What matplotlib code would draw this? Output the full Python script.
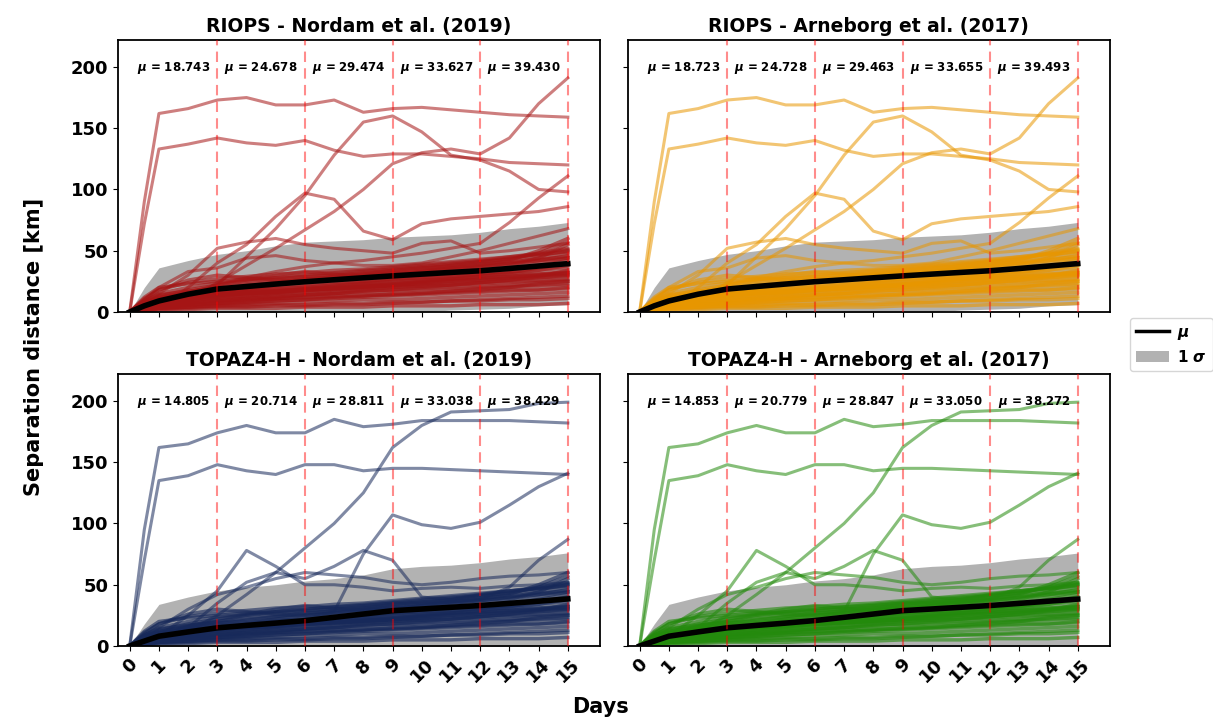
import numpy as np
import matplotlib
matplotlib.use("Agg")
import matplotlib.pyplot as plt
from matplotlib.lines import Line2D
from matplotlib.patches import Patch

plt.rcParams['font.family'] = ['DejaVu Sans']
plt.rcParams['mathtext.fontset'] = 'custom'
plt.rcParams['mathtext.it'] = 'DejaVu Sans:italic:bold'
plt.rcParams['mathtext.rm'] = 'DejaVu Sans:bold'

#------------------------------------------------------------------
# time axis (days), first step at half a day
days = [0, 0.5, 1, 2, 3, 4, 5, 6, 7, 8, 9, 10, 11, 12, 13, 14, 15]
day_ticks = list(range(16))
mark_days = [3, 6, 9, 12, 15]
mu_pos = [1.5, 4.5, 7.5, 10.5, 13.5]

titles = ["RIOPS - Nordam et al. (2019)", "RIOPS - Arneborg et al. (2017)",
          "TOPAZ4-H - Nordam et al. (2019)", "TOPAZ4-H - Arneborg et al. (2017)"]
colors = ["#a51515", "#e89600", "#17295a", "#238a0c"]

mu_riops_nordam = [18.743, 24.678, 29.474, 33.627, 39.430]
mu_riops_arneborg = [18.723, 24.728, 29.463, 33.655, 39.493]
mu_topaz_nordam = [14.805, 20.714, 28.811, 33.038, 38.429]
mu_topaz_arneborg = [14.853, 20.779, 28.847, 33.050, 38.272]

mean_riops_nordam = [0, 5, 9, 14.5, 18.74, 20.8, 22.8, 24.68, 26.3, 27.9, 29.47, 30.9, 32.3, 33.63, 35.5, 37.5, 39.43]
mean_riops_arneborg = [0, 5, 9, 14.5, 18.72, 20.8, 22.8, 24.73, 26.3, 27.9, 29.46, 30.9, 32.3, 33.66, 35.5, 37.5, 39.49]
mean_topaz_nordam = [0, 4, 8, 11.5, 14.81, 16.8, 18.7, 20.71, 23.4, 26.1, 28.81, 30.2, 31.6, 33.04, 34.8, 36.6, 38.43]
mean_topaz_arneborg = [0, 4, 8, 11.5, 14.85, 16.8, 18.7, 20.78, 23.4, 26.1, 28.85, 30.2, 31.6, 33.05, 34.8, 36.6, 38.27]

sigma_riops = [0, 15, 27, 27.5, 28.3, 29.2, 31.2, 32.3, 31.7, 31.1, 31.5, 31.1, 30.7, 31.4, 32.5, 32.5, 33.6]
sigma_topaz = [0, 14, 26, 28.5, 30.2, 31.2, 31.3, 32.3, 31.6, 31.9, 34.2, 34.8, 34.4, 35.0, 36.2, 36.4, 37.6]

# far travelling drifter pairs, RIOPS
riops_far = [
    [0, 90, 162, 166, 173, 175, 169, 169, 173, 163, 166, 167, 165, 163, 161, 160, 159],
    [0, 72, 133, 137, 142, 138, 136, 140, 132, 127, 129, 129, 127, 125, 122, 121, 120],
    [0, 2, 5, 12, 22, 45, 68, 95, 128, 155, 160, 147, 128, 124, 115, 100, 98],
    [0, 1, 3, 20, 40, 55, 78, 97, 92, 66, 59, 72, 76, 78, 80, 82, 86],
    [0, 1, 3, 9, 24, 38, 52, 67, 82, 100, 121, 130, 133, 129, 142, 170, 191],
    [0, 4, 8, 15, 22, 28, 33, 37, 40, 42, 45, 48, 52, 56, 73, 93, 111],
    [0, 8, 15, 30, 52, 57, 60, 55, 52, 50, 48, 56, 58, 48, 50, 53, 56],
    [0, 10, 20, 33, 36, 44, 46, 42, 40, 38, 38, 40, 45, 50, 56, 62, 68],
]

# far travelling drifter pairs, TOPAZ4-H
topaz_far = [
    [0, 95, 162, 165, 174, 180, 174, 174, 185, 179, 181, 184, 184, 184, 184, 183, 182],
    [0, 70, 135, 139, 148, 143, 140, 148, 148, 143, 145, 145, 144, 143, 142, 141, 140],
    [0, 1, 3, 12, 25, 42, 60, 80, 100, 125, 162, 180, 191, 192, 193, 198, 199],
    [0, 2, 5, 12, 15, 18, 20, 22, 28, 75, 107, 99, 96, 101, 115, 130, 141],
    [0, 4, 8, 25, 45, 78, 65, 50, 50, 48, 45, 47, 48, 47, 49, 50, 52],
    [0, 2, 5, 15, 35, 52, 60, 55, 65, 78, 70, 40, 38, 42, 45, 47, 50],
    [0, 8, 15, 30, 42, 48, 55, 60, 58, 56, 52, 50, 52, 55, 57, 58, 60],
    [0, 5, 10, 15, 20, 25, 28, 30, 32, 33, 35, 35, 36, 38, 48, 70, 87],
]

# the dense bulk of pairs near the bottom
bulk = [
    [0, 2, 3, 4, 5, 5, 6, 6, 7, 7, 8, 8, 9, 9, 10, 10, 11],
    [0, 3, 5, 7, 9, 10, 11, 12, 13, 14, 14, 15, 16, 17, 18, 18, 19],
    [0, 5, 8, 11, 13, 15, 16, 18, 19, 20, 21, 22, 23, 24, 25, 26, 27],
    [0, 6, 10, 14, 17, 19, 21, 22, 24, 25, 27, 28, 30, 31, 33, 34, 36],
    [0, 7, 12, 17, 20, 23, 25, 27, 28, 30, 32, 34, 36, 38, 40, 42, 44],
    [0, 9, 15, 20, 24, 26, 28, 30, 32, 34, 36, 38, 40, 42, 45, 48, 52],
    [0, 4, 6, 10, 14, 18, 22, 25, 27, 29, 31, 33, 35, 37, 40, 44, 48],
    [0, 2, 4, 6, 8, 10, 12, 14, 15, 16, 17, 18, 19, 20, 21, 22, 23],
    [0, 4, 7, 9, 10, 11, 13, 14, 16, 18, 20, 21, 22, 23, 24, 25, 26],
    [0, 5, 9, 13, 16, 18, 19, 20, 22, 24, 26, 28, 29, 30, 31, 31, 32],
    [0, 1, 2, 3, 4, 4, 5, 5, 6, 6, 7, 8, 9, 10, 11, 12, 13],
    [0, 6, 11, 15, 18, 21, 24, 26, 29, 31, 33, 35, 38, 40, 43, 48, 57],
    [0, 8, 13, 18, 22, 25, 27, 29, 31, 33, 35, 37, 39, 41, 43, 46, 50],
    [0, 3, 6, 9, 12, 15, 17, 19, 21, 23, 25, 26, 27, 28, 29, 30, 31],
    [0, 2, 3, 5, 7, 9, 11, 13, 15, 17, 18, 19, 20, 21, 22, 24, 25],
    [0, 11, 18, 24, 27, 29, 31, 32, 34, 35, 37, 39, 41, 43, 45, 47, 49],
    [0, 3, 5, 8, 11, 13, 15, 17, 18, 19, 20, 21, 22, 24, 26, 28, 30],
    [0, 5, 8, 12, 15, 17, 18, 19, 20, 22, 23, 25, 27, 29, 32, 36, 40],
    [0, 2, 4, 7, 9, 12, 14, 16, 18, 20, 22, 24, 26, 27, 28, 29, 30],
    [0, 6, 10, 14, 16, 17, 17, 18, 19, 20, 21, 23, 25, 27, 29, 31, 33],
    [0, 1, 2, 2, 3, 3, 3, 4, 4, 4, 5, 5, 5, 6, 6, 6, 7],
    [0, 7, 11, 13, 14, 15, 16, 18, 20, 21, 22, 24, 25, 26, 27, 28, 29],
    [0, 4, 8, 16, 22, 26, 30, 33, 31, 29, 30, 33, 36, 38, 42, 50, 60],
    [0, 10, 18, 26, 30, 28, 26, 25, 27, 30, 32, 31, 33, 35, 38, 44, 55],
    [0, 2, 3, 4, 6, 7, 9, 10, 12, 13, 15, 16, 17, 19, 20, 21, 22],
    [0, 4, 6, 8, 9, 11, 12, 14, 15, 17, 18, 20, 22, 24, 26, 29, 34],
    [0, 6, 9, 11, 12, 13, 15, 17, 19, 21, 23, 25, 27, 29, 31, 34, 38],
    [0, 3, 4, 6, 7, 8, 9, 10, 11, 12, 13, 14, 15, 16, 17, 18, 20],
    [0, 8, 12, 16, 19, 22, 24, 27, 29, 31, 34, 36, 38, 41, 44, 47, 51],
    [0, 5, 7, 10, 12, 14, 16, 18, 19, 21, 22, 23, 25, 26, 28, 30, 32],
    [0, 1, 3, 4, 5, 6, 7, 8, 9, 10, 10, 11, 12, 13, 14, 15, 16],
    [0, 9, 14, 17, 19, 20, 22, 24, 26, 28, 30, 33, 35, 37, 39, 42, 46],
    [0, 7, 10, 12, 14, 16, 17, 19, 21, 23, 24, 26, 28, 31, 34, 38, 42],
    [0, 2, 4, 6, 7, 8, 10, 11, 12, 13, 14, 15, 17, 18, 20, 23, 25],
    [0, 12, 20, 23, 25, 27, 28, 29, 30, 32, 34, 36, 37, 39, 41, 43, 45],
    [0, 4, 7, 11, 14, 16, 19, 21, 23, 25, 27, 29, 31, 33, 36, 40, 44],
]

#------------------------------------------------------------------
def draw_panel(ax, title, color, far, mean, sigma, mu):
    t = np.array(days)
    m = np.array(mean)
    s = np.array(sigma)
    ax.fill_between(t, m - s, m + s, color='grey', alpha=0.6, lw=0, zorder=1)
    for tr in bulk:
        ax.plot(t, tr, color=color, alpha=0.6, lw=2.5, zorder=2)
    for tr in far:
        ax.plot(t, tr, color=color, alpha=0.55, lw=2.2, zorder=2)
    ax.plot(t, m, color='black', lw=4, zorder=3)
    for d in mark_days:
        ax.axvline(d, color='red', alpha=0.45, lw=1.5, ls=(0, (5, 3)), zorder=4)
    for x, v in zip(mu_pos, mu):
        ax.text(x, 199, r'$\mu$ = %.3f' % v, ha='center', va='center',
                fontsize=8.5, fontweight='bold', zorder=5)
    ax.set_title(title, fontsize=13.5, fontweight='bold')
    ax.set_xlim(-0.4, 16.1)
    ax.set_ylim(0, 222)
    ax.set_xticks(day_ticks)
    ax.set_yticks([0, 50, 100, 150, 200])
    for sp in ax.spines.values():
        sp.set_linewidth(1.3)

#------------------------------------------------------------------
def main():
    fig = plt.figure(figsize=(12.13, 7.23), dpi=100)
    L = [0.0973, 0.5177]
    B = [0.5685, 0.1065]
    w, h = 0.3973, 0.3762
    panels = [
        (L[0], B[0], riops_far, mean_riops_nordam, sigma_riops, mu_riops_nordam),
        (L[1], B[0], riops_far, mean_riops_arneborg, sigma_riops, mu_riops_arneborg),
        (L[0], B[1], topaz_far, mean_topaz_nordam, sigma_topaz, mu_topaz_nordam),
        (L[1], B[1], topaz_far, mean_topaz_arneborg, sigma_topaz, mu_topaz_arneborg),
    ]
    for i, (l, b, far, mean, sigma, mu) in enumerate(panels):
        ax = fig.add_axes([l, b, w, h])
        draw_panel(ax, titles[i], colors[i], far, mean, sigma, mu)
        if i < 2:
            ax.set_xticklabels([])
        else:
            ax.set_xticklabels([str(d) for d in day_ticks], rotation=45,
                               fontsize=13, fontweight='bold')
        if i % 2 == 1:
            ax.set_yticklabels([])
        else:
            ax.set_yticklabels(['0', '50', '100', '150', '200'],
                               fontsize=13, fontweight='bold')

    fig.text(0.028, 0.52, 'Separation distance [km]', rotation=90, ha='center',
             va='center', fontsize=15, fontweight='bold')
    fig.text(0.495, 0.022, 'Days', ha='center', va='center', fontsize=15,
             fontweight='bold')

    handles = [Line2D([0], [0], color='black', lw=2.5),
               Patch(facecolor='grey', alpha=0.6)]
    fig.legend(handles, [r'$\mu$', r'1 $\sigma$'], loc='center left',
               bbox_to_anchor=(0.925, 0.523), prop={'weight': 'bold', 'size': 11},
               handlelength=2.2, handletextpad=0.5, borderpad=0.4)
    fig.savefig('out.png', dpi=100)

if __name__ == "__main__":
    main()
